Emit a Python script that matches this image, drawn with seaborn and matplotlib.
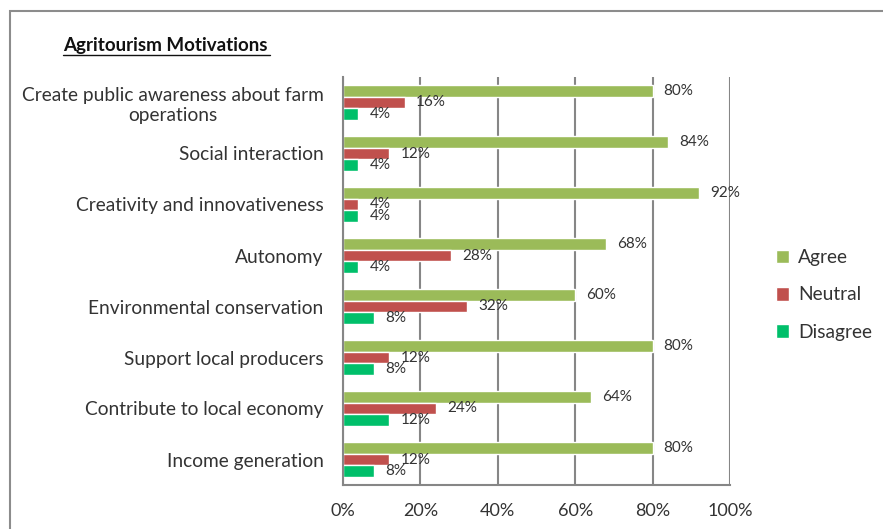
import pandas as pd
import numpy as np
import matplotlib.pyplot as plt
import seaborn as sns
from matplotlib.patches import Rectangle

# chart values
motivations = ["Create public awareness about farm\noperations", "Social interaction",
               "Creativity and innovativeness", "Autonomy", "Environmental conservation",
               "Support local producers", "Contribute to local economy", "Income generation"]
agree = [80, 84, 92, 68, 60, 80, 64, 80]
neutral = [16, 12, 4, 28, 32, 12, 24, 12]
disagree = [4, 4, 4, 4, 8, 8, 12, 8]
responses = ["Agree", "Neutral", "Disagree"]
colors = ["#9BBB59", "#C0504D", "#00BF6A"]

df = pd.DataFrame({"motivation": motivations, "Agree": agree,
                   "Neutral": neutral, "Disagree": disagree})
long = df.melt(id_vars="motivation", var_name="response", value_name="pct")

sns.set_style("white")
plt.rcParams['font.family'] = ['Lato', 'DejaVu Sans']

fig = plt.figure(figsize=(8.83, 5.29), dpi=100)
ax = fig.add_axes([343/883, 1-485/529, 387/883, 408/529])

sns.barplot(data=long, x="pct", y="motivation", hue="response", hue_order=responses,
            order=motivations, palette=colors, orient="h", width=0.69,
            saturation=1, ax=ax, legend=True)

for cont in ax.containers:
    ax.bar_label(cont, labels=[f"{v:.0f}%" for v in cont.datavalues], padding=8,
                 fontsize=11, color="#333333")

ax.set_xlim(0, 100)
ax.set_ylim(7.5, -0.5)
ax.set_xticks([0, 20, 40, 60, 80, 100])
ax.set_xticklabels([f"{t}%" for t in [0, 20, 40, 60, 80, 100]], fontsize=13, color="#333333")
ax.set_yticks(np.arange(len(motivations)))
ax.set_yticklabels(motivations, fontsize=13.8, color="#333333", multialignment="center")
ax.tick_params(axis="y", length=0, pad=14)
ax.tick_params(axis="x", length=5, color="#868686", width=1.5, pad=8)
# category boundary ticks on the left axis
ax.set_yticks(np.arange(-0.5, len(motivations), 1), minor=True)
ax.tick_params(axis="y", which="minor", length=5, color="#868686", width=1.5)
ax.xaxis.grid(True, color="#868686", linewidth=1.5)
ax.set_axisbelow(True)
for s in ["top", "right"]:
    ax.spines[s].set_visible(False)
for s in ["left", "bottom"]:
    ax.spines[s].set_color("#868686")
    ax.spines[s].set_linewidth(1.5)
ax.set_xlabel("")
ax.set_ylabel("")

ax.legend_.remove()
handles, labels = ax.get_legend_handles_labels()
leg = fig.legend(handles, labels, loc="center left", bbox_to_anchor=(776/883, 1-295/529),
                 frameon=False, fontsize=13.8, labelspacing=1.05, handlelength=0.7,
                 handleheight=0.7, handletextpad=0.45, borderaxespad=0, borderpad=0)
for t in leg.get_texts():
    t.set_color("#333333")

fig.text(63/883, 1-46/529, "Agritourism Motivations", fontsize=13.5, fontweight="bold",
         va="center", ha="left", color="#111111")
fig.add_artist(plt.Line2D([63/883, 270/883], [1-55/529, 1-55/529], color="#111111", lw=1))

fig.add_artist(Rectangle((10/883, -0.1), 1.0, 1.1 - 11/529, transform=fig.transFigure,
                         fill=False, edgecolor="#8c8c8c", linewidth=1.5))

fig.savefig("out.png", dpi=100)
